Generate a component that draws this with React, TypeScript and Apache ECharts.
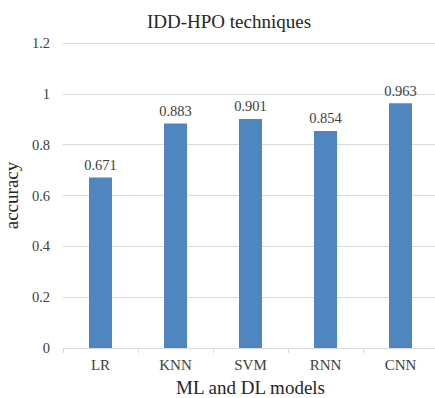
import React, { useEffect, useRef } from "react";
import * as echarts from "echarts";

const categories = ["LR", "KNN", "SVM", "RNN", "CNN"];
const accuracy = [0.671, 0.883, 0.901, 0.854, 0.963];
const yTicks = { min: 0, max: 1.2, interval: 0.2 };

export default function App() {
  const ref = useRef<HTMLDivElement>(null);
  useEffect(() => {
    const chart = echarts.init(ref.current!, null, { renderer: "svg" });
    const font = "'Liberation Serif', 'Times New Roman', serif";
    chart.setOption({
      animation: false,
      textStyle: { fontFamily: font },
      title: {
        text: "IDD-HPO techniques",
        left: 224,
        top: 7,
        textAlign: "center",
        textStyle: { fontFamily: font, fontSize: 19, fontWeight: "normal", color: "#262626" },
      },
      grid: {
        left: 63,
        width: 375,
        top: 43,
        bottom: 50,
        containLabel: false,
        outerBoundsMode: "none",
      },
      xAxis: {
        type: "category",
        data: categories,
        name: "ML and DL models",
        nameLocation: "middle",
        nameGap: 30,
        nameTextStyle: { fontFamily: font, fontSize: 19, color: "#262626" },
        axisLine: { lineStyle: { color: "#d9d9d9" } },
        axisTick: { show: true, length: 5, lineStyle: { color: "#d9d9d9" } },
        axisLabel: { fontFamily: font, fontSize: 15, color: "#404040", margin: 9 },
      },
      yAxis: {
        type: "value",
        min: yTicks.min,
        max: yTicks.max,
        interval: yTicks.interval,
        name: "accuracy",
        nameLocation: "middle",
        nameGap: 41,
        nameTextStyle: { fontFamily: font, fontSize: 19, color: "#262626" },
        axisLine: { show: false },
        axisTick: { show: false },
        splitLine: { lineStyle: { color: "#d9d9d9" } },
        axisLabel: {
          fontFamily: font,
          fontSize: 14.5,
          color: "#404040",
          margin: 13,
          formatter: (v: number) => String(parseFloat(v.toFixed(1))),
        },
      },
      series: [
        {
          type: "bar",
          data: accuracy,
          barWidth: 23,
          itemStyle: { color: "#4f86bf" },
          label: {
            show: true,
            position: "top",
            distance: 5,
            fontFamily: font,
            fontSize: 14.5,
            color: "#404040",
            formatter: (p: any) => String(p.value),
          },
        },
      ],
    });
    return () => chart.dispose();
  }, []);
  return (
    <div
      ref={ref}
      style={{ position: "fixed", left: 0, top: 0, width: 435, height: 398, background: "#fff" }}
    />
  );
}
